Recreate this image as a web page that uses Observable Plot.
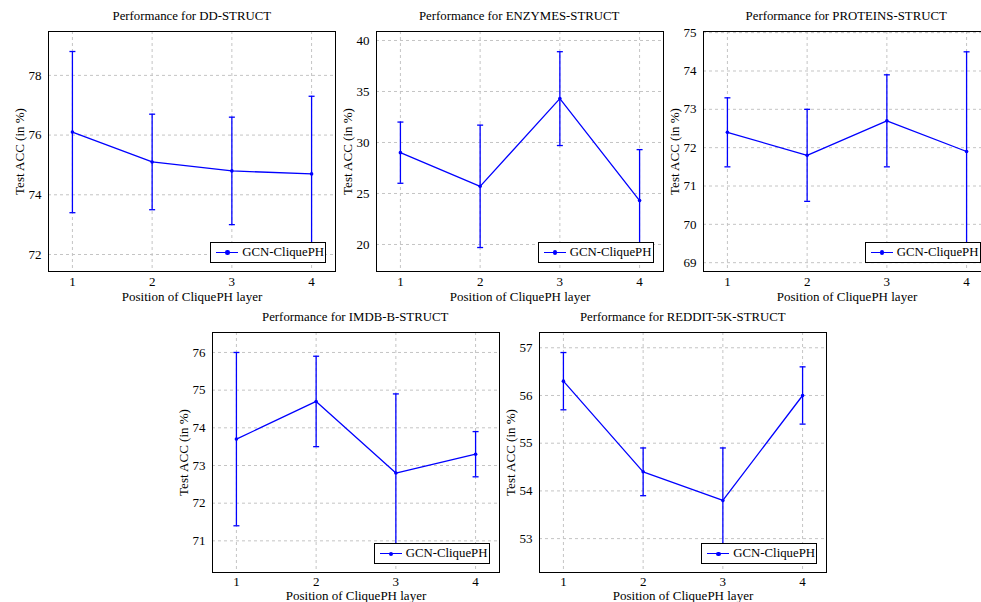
<!DOCTYPE html>
<html><head><meta charset="utf-8">
<script src="https://cdn.jsdelivr.net/npm/d3@7"></script>
<script src="https://cdn.jsdelivr.net/npm/@observablehq/plot@0.6"></script>
<style>
body{margin:0;background:#fff;}
#page{position:relative;width:981px;height:602px;overflow:hidden;font-family:"Liberation Serif",serif;color:#000;}
.title{position:absolute;font-size:12.8px;text-align:center;line-height:14px;white-space:nowrap;}
.legend{position:absolute;width:114px;height:19px;border:1px solid #000;background:#fff;display:flex;align-items:center;font-size:12.8px;white-space:nowrap;}
.swatch{position:relative;width:22px;height:1.4px;background:#00f;margin-left:5px;margin-right:4px;flex:none;}
.swatch::after{content:"";position:absolute;left:9px;top:-1.5px;width:4.4px;height:4.4px;border-radius:50%;background:#00f;}
.chart{position:absolute;}
</style></head><body><div id="page"></div>
<script>
// ---- data ----
const positions = [1, 2, 3, 4];
const seriesName = "GCN-CliquePH";
const xLabel = "Position of CliquePH layer";
const yLabel = "Test ACC (in %)";

const datasetNames = ["DD-STRUCT", "ENZYMES-STRUCT", "PROTEINS-STRUCT", "IMDB-B-STRUCT", "REDDIT-5K-STRUCT"];

const ddAcc = [76.1, 75.1, 74.8, 74.7];
const ddErr = [2.7, 1.6, 1.8, 2.6];
const enzAcc = [29.0, 25.7, 34.3, 24.3];
const enzErr = [3.0, 6.0, 4.6, 5.0];
const protAcc = [72.4, 71.8, 72.7, 71.9];
const protErr = [0.9, 1.2, 1.2, 2.6];
const imdbAcc = [73.7, 74.7, 72.8, 73.3];
const imdbErr = [2.3, 1.2, 2.1, 0.6];
const redditAcc = [56.3, 54.4, 53.8, 56.0];
const redditErr = [0.6, 0.5, 1.1, 0.6];

const ddTicks = [72, 74, 76, 78];
const enzTicks = [20, 25, 30, 35, 40];
const protTicks = [69, 70, 71, 72, 73, 74, 75];
const imdbTicks = [71, 72, 73, 74, 75, 76];
const redditTicks = [53, 54, 55, 56, 57];

// ---- layout ----
const FW = 287, FH = 240;
const ML = 48, MR = 6, MT = 6, MB = 34;
const panels = [
  {name: datasetNames[0], acc: ddAcc, err: ddErr, ticks: ddTicks, domain: [71.43, 79.47], left: 48.3, top: 31, tp: 5, xlo: 29},
  {name: datasetNames[1], acc: enzAcc, err: enzErr, ticks: enzTicks, domain: [17.35, 40.88], left: 375.7, top: 31, tp: 5, xlo: 29},
  {name: datasetNames[2], acc: protAcc, err: protErr, ticks: protTicks, domain: [68.77, 75.03], left: 702.7, top: 31, tp: 5, xlo: 29},
  {name: datasetNames[3], acc: imdbAcc, err: imdbErr, ticks: imdbTicks, domain: [70.16, 76.53], left: 211.7, top: 332.3, tp: 4, xlo: 27.5},
  {name: datasetNames[4], acc: redditAcc, err: redditErr, ticks: redditTicks, domain: [52.29, 57.32], left: 539.3, top: 332.3, tp: 4, xlo: 27.5}
];

const capSymbol = {draw(ctx) { ctx.moveTo(-3, 0); ctx.lineTo(3, 0); }};
const blue = "#0000ff";
const page = document.getElementById("page");

for (const p of panels) {
  const rows = positions.map((x, i) => ({pos: x, acc: p.acc[i], err: p.err[i]}));
  const chart = Plot.plot({
    width: ML + FW + MR,
    height: MT + FH + MB,
    marginLeft: ML, marginRight: MR, marginTop: MT, marginBottom: MB,
    style: {fontFamily: "Liberation Serif", fontSize: "13px", background: "transparent", overflow: "visible", color: "#000"},
    x: {domain: [0.7, 4.3]},
    y: {domain: p.domain},
    marks: [
      Plot.gridX({ticks: positions, stroke: "#c4c4c4", strokeOpacity: 1, strokeDasharray: "3,3"}),
      Plot.gridY({ticks: p.ticks, stroke: "#c4c4c4", strokeOpacity: 1, strokeDasharray: "3,3"}),
      Plot.axisX({ticks: positions, tickSize: 0, tickPadding: p.tp, tickFormat: d => String(d), label: xLabel, labelAnchor: "center", labelArrow: "none", labelOffset: p.xlo}),
      Plot.axisY({ticks: p.ticks, tickSize: 0, tickPadding: 7, tickFormat: d => String(d), label: yLabel, labelAnchor: "center", labelArrow: "none", labelOffset: 34}),
      Plot.ruleX(rows, {x: "pos", y1: d => d.acc - d.err, y2: d => d.acc + d.err, stroke: blue, strokeWidth: 1.3, clip: true}),
      Plot.dot(rows, {x: "pos", y: d => d.acc - d.err, symbol: capSymbol, stroke: blue, fill: "none", strokeWidth: 1.3, clip: true}),
      Plot.dot(rows, {x: "pos", y: d => d.acc + d.err, symbol: capSymbol, stroke: blue, fill: "none", strokeWidth: 1.3, clip: true}),
      Plot.line(rows, {x: "pos", y: "acc", stroke: blue, strokeWidth: 1.3}),
      Plot.dot(rows, {x: "pos", y: "acc", r: 1.8, fill: blue, stroke: "none"}),
      Plot.frame({stroke: "#000", strokeWidth: 1})
    ]
  });
  chart.classList.add("chart");
  chart.style.left = (p.left - ML) + "px";
  chart.style.top = (p.top - MT) + "px";
  page.appendChild(chart);

  const t = document.createElement("div");
  t.className = "title";
  t.style.left = p.left + "px";
  t.style.width = FW + "px";
  t.style.top = (p.top - 22) + "px";
  t.textContent = "Performance for " + p.name;
  page.appendChild(t);

  const lg = document.createElement("div");
  lg.className = "legend";
  lg.style.left = (p.left + FW - 9 - 116) + "px";
  lg.style.top = (p.top + FH - 8 - 21) + "px";
  const sw = document.createElement("span");
  sw.className = "swatch";
  const tx = document.createElement("span");
  tx.textContent = seriesName;
  lg.appendChild(sw);
  lg.appendChild(tx);
  page.appendChild(lg);
}
</script>
</body></html>
